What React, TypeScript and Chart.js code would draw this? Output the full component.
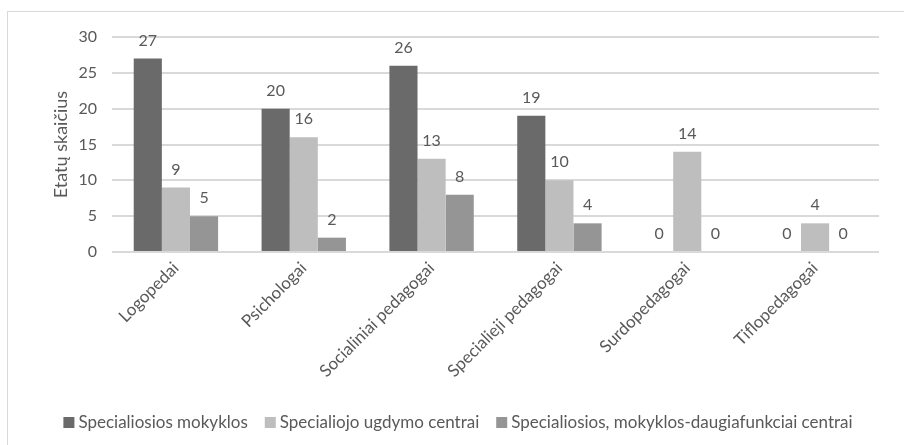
import React, { useEffect, useRef } from "react";
import { Chart, registerables } from "chart.js";

Chart.register(...registerables);

const categories = [
  "Logopedai",
  "Psichologai",
  "Socialiniai pedagogai",
  "Specialieji pedagogai",
  "Surdopedagogai",
  "Tiflopedagogai",
];

const seriesNames = [
  "Specialiosios mokyklos",
  "Specialiojo ugdymo centrai",
  "Specialiosios, mokyklos-daugiafunkciai centrai",
];

const specialiosiosMokyklos = [27, 20, 26, 19, 0, 0];
const ugdymoCentrai = [9, 16, 13, 10, 14, 4];
const daugiafunkciaiCentrai = [5, 2, 8, 4, 0, 0];

const yMax = 30;
const yStep = 5;

const seriesColors = ["#6a6a6a", "#bebebe", "#959595"];
const textColor = "#595959";
const FONT = "Lato, 'Open Sans', sans-serif";

// Numeric value printed above every bar (including zero-height ones)
const valueLabels = {
  id: "valueLabels",
  afterDatasetsDraw(chart: any) {
    const ctx = chart.ctx;
    ctx.save();
    ctx.font = `16px ${FONT}`;
    ctx.fillStyle = textColor;
    ctx.textAlign = "center";
    ctx.textBaseline = "alphabetic";
    chart.data.datasets.forEach((ds: any, i: number) => {
      const meta = chart.getDatasetMeta(i);
      meta.data.forEach((el: any, j: number) => {
        ctx.fillText(String(ds.data[j]), el.x, el.y - 13);
      });
    });
    ctx.restore();
  },
};

// Single-row legend with small square swatches, centred under the chart
const squareLegend = {
  id: "squareLegend",
  afterDraw(chart: any) {
    const ctx = chart.ctx;
    const box = 11;
    const boxGap = 4;
    const itemGap = 17;
    const centerX = 458;
    const boxTop = 417;
    const baseline = 428;
    ctx.save();
    ctx.font = `17px ${FONT}`;
    ctx.textBaseline = "alphabetic";
    ctx.textAlign = "left";
    const items = chart.data.datasets.map((ds: any) => ({
      label: ds.label as string,
      color: ds.backgroundColor as string,
      w: ctx.measureText(ds.label).width,
    }));
    const total =
      items.reduce((s: number, it: any) => s + box + boxGap + it.w, 0) +
      itemGap * (items.length - 1);
    let x = centerX - total / 2;
    items.forEach((it: any) => {
      ctx.fillStyle = it.color;
      ctx.fillRect(x, boxTop, box, box);
      x += box + boxGap;
      ctx.fillStyle = textColor;
      ctx.fillText(it.label, x, baseline);
      x += it.w + itemGap;
    });
    ctx.restore();
  },
};

export default function App() {
  const canvasRef = useRef<HTMLCanvasElement | null>(null);

  useEffect(() => {
    if (!canvasRef.current) return;
    const chart = new Chart(canvasRef.current, {
      type: "bar",
      data: {
        labels: categories,
        datasets: [
          { label: seriesNames[0], data: specialiosiosMokyklos, backgroundColor: seriesColors[0] },
          { label: seriesNames[1], data: ugdymoCentrai, backgroundColor: seriesColors[1] },
          { label: seriesNames[2], data: daugiafunkciaiCentrai, backgroundColor: seriesColors[2] },
        ],
      },
      options: {
        responsive: false,
        animation: false,
        layout: { padding: { left: 40, right: 25, top: 37, bottom: 0 } },
        datasets: {
          bar: { categoryPercentage: 0.66, barPercentage: 1.0 },
        },
        plugins: {
          legend: { display: false },
          tooltip: { enabled: false },
        },
        scales: {
          x: {
            grid: { display: false, drawTicks: false },
            border: { display: false },
            ticks: {
              color: textColor,
              font: { family: FONT, size: 17 },
              minRotation: 45,
              maxRotation: 45,
              padding: 6,
            },
            afterFit(scale: any) {
              scale.height = 193;
            },
          },
          y: {
            min: 0,
            max: yMax,
            ticks: {
              stepSize: yStep,
              color: textColor,
              font: { family: FONT, size: 16 },
              padding: 15,
            },
            grid: { color: "#d9d9d9", lineWidth: 2, drawTicks: false },
            border: { display: false },
            title: {
              display: true,
              text: "Etatų skaičius",
              color: textColor,
              font: { family: FONT, size: 18, weight: "normal" },
              padding: { top: 10, bottom: 0 },
            },
            afterFit(scale: any) {
              scale.width = 72;
            },
          },
        },
      },
      plugins: [valueLabels, squareLegend],
    });
    return () => chart.destroy();
  }, []);

  return (
    <div
      style={{
        position: "absolute",
        left: 0,
        top: 0,
        width: 904,
        height: 445,
        overflow: "hidden",
        background: "#ffffff",
      }}
    >
      <div
        style={{
          position: "absolute",
          left: 7,
          top: 11,
          width: 1000,
          height: 1000,
          border: "1px solid #d9d9d9",
        }}
      />
      <canvas
        ref={canvasRef}
        width={904}
        height={445}
        style={{ position: "absolute", left: 0, top: 0 }}
      />
    </div>
  );
}
